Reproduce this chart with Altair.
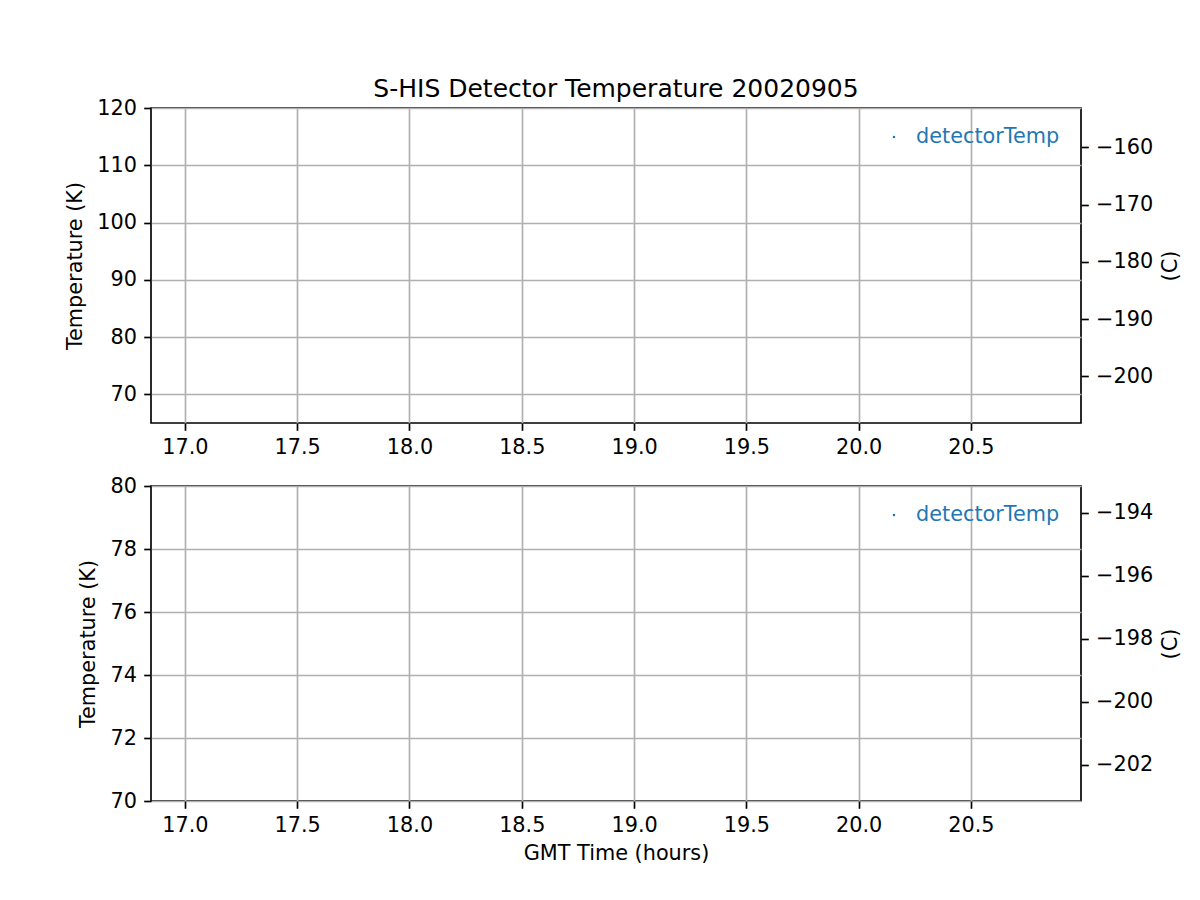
import altair as alt
import pandas as pd

# ---- data (the panels contain no visible samples) ----
title_text = "S-HIS Detector Temperature 20020905"
series_name = "detectorTemp"
x_title = "GMT Time (hours)"
yk_title = "Temperature (K)"
yc_title = "(C)"

time_hours = []
detector_temp_k = []

x_ticks = [17.0, 17.5, 18.0, 18.5, 19.0, 19.5, 20.0, 20.5]
x_domain = [16.849, 20.99]

top_k_domain = [65, 120]
top_k_ticks = [70, 80, 90, 100, 110, 120]
top_c_ticks = [-200, -190, -180, -170, -160]

bottom_k_domain = [70, 80]
bottom_k_ticks = [70, 72, 74, 76, 78, 80]
bottom_c_ticks = [-202, -200, -198, -196, -194]

KELVIN_OFFSET = 273.15
BLUE = "#1f77b4"
FONT = "DejaVu Sans"
LW = 1.67

df = pd.DataFrame({
    "time": pd.Series(time_hours, dtype=float),
    "tempK": pd.Series(detector_temp_k, dtype=float),
})
legend_df = pd.DataFrame({"label": [series_name]})


def panel(k_domain, k_ticks, c_ticks, show_xtitle, title=None):
    c_domain = [k_domain[0] - KELVIN_OFFSET, k_domain[1] - KELVIN_OFFSET]
    xaxis_kwargs = dict(values=x_ticks, format=".1f", grid=True,
                        labelFlush=False, labelOverlap=False, titlePadding=8.3)
    if show_xtitle:
        xaxis_kwargs["title"] = x_title
    else:
        xaxis_kwargs["title"] = None
    x = alt.X("time:Q", scale=alt.Scale(domain=x_domain, nice=False, zero=False),
              axis=alt.Axis(**xaxis_kwargs))

    pts = alt.Chart(df).mark_point(filled=True, size=4, color=BLUE).encode(
        x=x,
        y=alt.Y("tempK:Q",
                scale=alt.Scale(domain=k_domain, nice=False, zero=False),
                axis=alt.Axis(values=k_ticks, title=yk_title, grid=True,
                              orient="left", titlePadding=11,
                              labelOverlap=False, labelFlush=False)),
    )
    right = alt.Chart(df).transform_calculate(
        tempC=f"datum.tempK - {KELVIN_OFFSET}"
    ).mark_point(opacity=0).encode(
        x=x,
        y=alt.Y("tempC:Q",
                scale=alt.Scale(domain=c_domain, nice=False, zero=False),
                axis=alt.Axis(values=c_ticks, title=yc_title, grid=False,
                              orient="right", titleAngle=270, titleBaseline="top",
                              titlePadding=8,
                              labelOverlap=False, labelFlush=False)),
    )
    leg_mark = alt.Chart(legend_df).mark_square(size=5, color=BLUE, opacity=1).encode(
        x=alt.value(743), y=alt.value(29)
    )
    leg_text = alt.Chart(legend_df).mark_text(
        align="left", baseline="middle", font=FONT, fontSize=20.8, color=BLUE
    ).encode(x=alt.value(765), y=alt.value(29), text="label:N")

    layer = alt.layer(pts, right, leg_mark, leg_text).resolve_scale(y="independent")
    props = dict(width=930, height=315)
    if title is not None:
        props["title"] = alt.TitleParams(
            title, fontSize=25, font=FONT, fontWeight="normal", color="black",
            offset=-30, baseline="bottom", anchor="middle", frame="group",
        )
    return layer.properties(**props)


top = panel(top_k_domain, top_k_ticks, top_c_ticks, False, title_text)
bottom = panel(bottom_k_domain, bottom_k_ticks, bottom_c_ticks, True)

chart = alt.vconcat(top, bottom, spacing=63, bounds="flush").properties(
    padding={"left": 55, "top": 68, "right": 5, "bottom": 5},
    background="white",
).configure_axis(
    labelFont=FONT, labelFontSize=20.8, labelColor="black",
    titleFont=FONT, titleFontSize=20.8, titleFontWeight="normal", titleColor="black",
    tickColor="black", tickWidth=LW, tickSize=7.3, labelPadding=7.3,
    gridColor="#b0b0b0", gridWidth=LW, gridOpacity=1,
    domain=False,
).configure_view(
    stroke="black", strokeWidth=LW,
)

chart.save("out.html", embed_options={"renderer": "svg", "actions": False})
